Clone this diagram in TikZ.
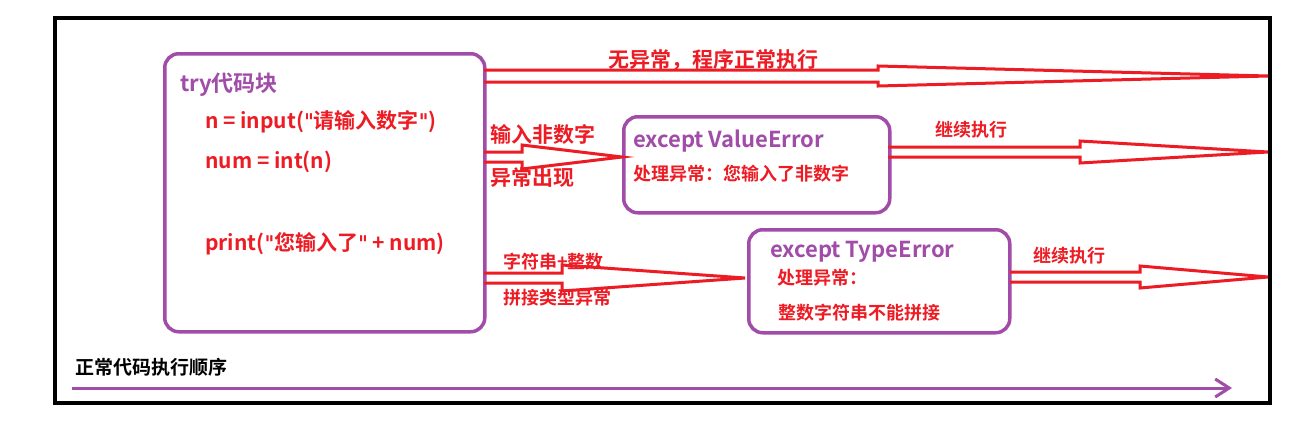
\documentclass[tikz,border=0pt]{standalone}
\usepackage{fontspec}
\setmainfont{Noto Sans CJK SC Bold}
\newfontfamily\qf{DejaVu Sans}[FakeBold=1]
\newcommand\qq{{\qf"}}
\usetikzlibrary{arrows.meta}
\definecolor{rd}{RGB}{237,28,36}
\definecolor{pp}{RGB}{160,76,168}
\tikzset{x=1pt,y=-1pt,
 box/.style={draw=pp,line width=3.5pt,rounded corners=14pt},
 hol/.style={draw=rd,line width=3pt,line join=miter},
 rt/.style={text=rd,anchor=west,inner sep=0,font=\fontsize{21}{21}\selectfont},
 st/.style={text=rd,anchor=west,inner sep=0,font=\fontsize{18}{18}\selectfont},
 pt/.style={text=pp,anchor=west,inner sep=0,font=\fontsize{22}{22}\selectfont}}
\newcommand\harrow[6]{\draw[hol] (#1,#4-#5) -- (#2,#4-#5) -- (#2,#4-#6) -- (#3,#4) -- (#2,#4+#6) -- (#2,#4+#5) -- (#1,#4+#5);}
\begin{document}
\begin{tikzpicture}
\useasboundingbox (0,0) rectangle (1315,423);
\fill[white] (0,0) rectangle (1315,423);
\draw[line width=4pt] (55,18) rectangle (1270,403);
\node[box,minimum width=320pt,minimum height=278pt,anchor=north west] (try) at (163,52) {};
\node[box,minimum width=266pt,minimum height=96pt,anchor=north west] (ve) at (622,115) {};
\node[box,minimum width=261pt,minimum height=103pt,anchor=north west] (te) at (747,228) {};
\node[pt] (t0) at (180,85) {try代码块};
\node[rt] (t1) at (205,122) {n = input(\qq 请输入数字\qq)};
\node[rt] (t2) at (205,162) {num = int(n)};
\node[rt] (t3) at (205,244) {print(\qq 您输入了\qq\ + num)};
\node[rt] (l1) at (608,60) {无异常，程序正常执行};
\node[rt] (l2) at (490,134) {输入非数字};
\node[rt] (l3) at (490,178) {异常出现};
\node[pt] (v1) at (633,141) {except ValueError};
\node[st] (v2) at (633,174) {处理异常：您输入了非数字};
\node[st] (l4) at (935,130) {继续执行};
\node[pt] (e1) at (770,252) {except TypeError};
\node[st] (e2) at (777,278) {处理异常：};
\node[st] (e3) at (778,313) {整数字符串不能拼接};
\node[st] (l5) at (503,262) {字符串+整数};
\node[st] (l6) at (503,298) {拼接类型异常};
\node[st] (l7) at (1033,256) {继续执行};
\node[anchor=west,inner sep=0,font=\fontsize{19}{19}\selectfont] (nm) at (75,367) {正常代码执行顺序};
\harrow{484}{878}{1268}{76}{6}{10}
\harrow{484}{522}{622}{157}{5}{12}
\harrow{888}{1080}{1268}{152}{5}{11}
\harrow{484}{562}{745}{278}{5}{13}
\harrow{1010}{1140}{1268}{277}{5}{11}
\draw[pp,line width=3pt,-{Straight Barb[length=14pt,width=18pt]}] (72,388) -- (1232,388);
\end{tikzpicture}
\end{document}
